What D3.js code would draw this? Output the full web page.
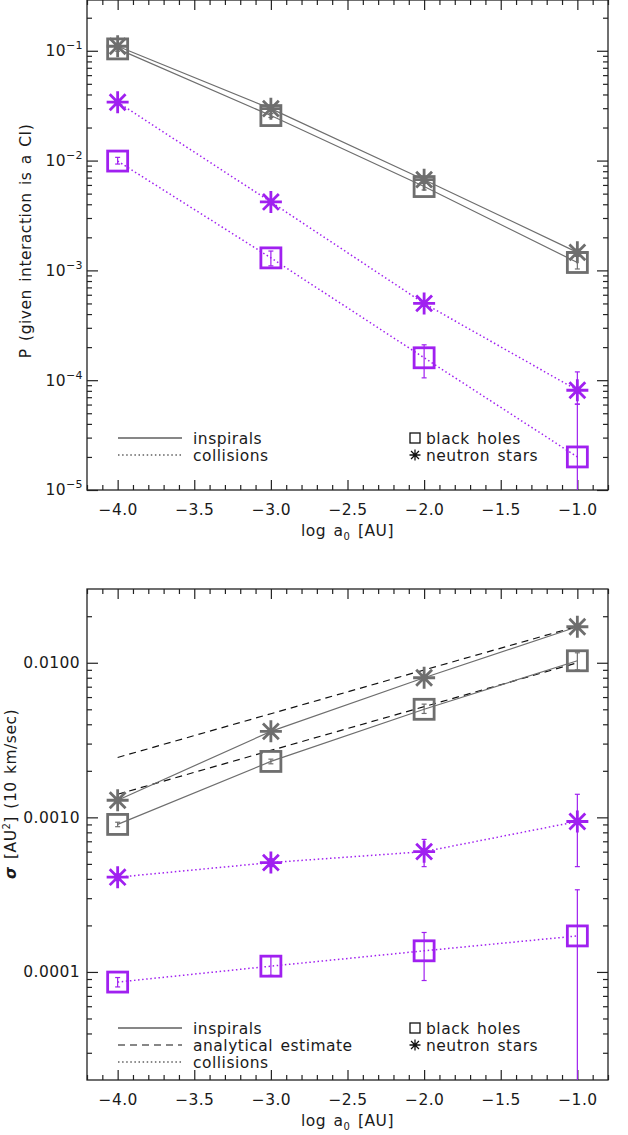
<!DOCTYPE html>
<html>
<head>
<meta charset="utf-8">
<script src="https://cdn.jsdelivr.net/npm/d3@7"></script>
<style>
  body { margin: 0; background: #fff; }
  text { font-family: 'DejaVu Sans', sans-serif; fill: #1a1a1a; }
  .axis path { display: none; }
  .axis line { stroke: #222; stroke-width: 1.2; }
  .axis text { font-size: 15.5px; letter-spacing: 0.4px; }
  .title { font-size: 15.5px; letter-spacing: 0.5px; word-spacing: 2px; }
  .legend text { font-size: 15.5px; letter-spacing: 0.5px; word-spacing: 2px; }
</style>
</head>
<body>
<div id="chart"></div>
<script>
// x positions, log a0 [AU]
const logA = [-4, -3, -2, -1];
const xTicks = [-4.0, -3.5, -3.0, -2.5, -2.0, -1.5, -1.0];

// top panel: P (given interaction is a CI)
const pInspBH = [0.104, 0.0257, 0.0058, 0.00118];
const pInspBHErr = [[0.099, 0.109], [0.0247, 0.0268], [0.0054, 0.0062], [0.00103, 0.00134]];
const pInspNS = [0.11, 0.0297, 0.0067, 0.00146];
const pInspNSErr = [[0.106, 0.114], [0.0287, 0.0308], [0.0064, 0.0071], [0.00137, 0.00156]];
const pCollNS = [0.034, 0.0042, 0.0005, 0.000081];
const pCollNSErr = [[0.0325, 0.0356], [0.0040, 0.0044], [0.00047, 0.00053], [0.0000605, 0.000119]];
const pCollBH = [0.0099, 0.0013, 0.00016, 0.00002];
const pCollBHErr = [[0.0093, 0.0107], [0.0011, 0.0015], [0.000105, 0.00021], [0.000001, 0.0000605]];
const pTicks = [1e-5, 1e-4, 1e-3, 1e-2, 1e-1];
const pTickExp = ['5', '4', '3', '2', '1'];

// bottom panel: cross section sigma [AU^2] at 10 km/sec
const sInspNS = [0.00129, 0.0036, 0.0080, 0.0171];
const sInspNSErr = [[0.00126, 0.00132], [0.00352, 0.00368], [0.0078, 0.0082], [0.0167, 0.0175]];
const sInspBH = [0.00090, 0.0023, 0.0050, 0.0103];
const sInspBHErr = [[0.00087, 0.00093], [0.00222, 0.00238], [0.0047, 0.0054], [0.0090, 0.0116]];
const sAnalNS = [0.00244, 0.00468, 0.00898, 0.0172];
const sAnalBH = [0.00141, 0.00271, 0.0052, 0.0100];
const sCollNS = [0.00041, 0.00051, 0.00060, 0.00094];
const sCollNSErr = [[0.00039, 0.00043], [0.00048, 0.00054], [0.00048, 0.00072], [0.00048, 0.00141]];
const sCollBH = [0.000086, 0.000109, 0.000137, 0.000171];
const sCollBHErr = [[0.000080, 0.000092], [0.000095, 0.000127], [0.000088, 0.00018], [0.000001, 0.00034]];
const sTicks = [0.0001, 0.001, 0.01];
const sTickLabels = ['0.0001', '0.0010', '0.0100'];

const GRAY = '#6e6e6e';
const PURPLE = '#a020f0';
const DOTS = '1.5,2.6';

const svg = d3.select('#chart').append('svg')
    .attr('width', 628)
    .attr('height', 1135);

// asterisk path, centred on 0,0
function starPath(r) {
    const d = r * 0.72;
    return `M${-r},0H${r}M0,${-r}V${r}M${-d},${-d}L${d},${d}M${-d},${d}L${d},${-d}`;
}

function drawMarker(g, kind, cx, cy, size, color, width) {
    if (kind === 'square') {
        g.append('rect')
            .attr('x', cx - size / 2).attr('y', cy - size / 2)
            .attr('width', size).attr('height', size)
            .attr('fill', 'none').attr('stroke', color).attr('stroke-width', width);
    } else {
        g.append('path')
            .attr('transform', `translate(${cx},${cy})`)
            .attr('d', starPath(size / 2))
            .attr('fill', 'none').attr('stroke', color).attr('stroke-width', width);
    }
}

function drawPanel(cfg) {
    const left = 87, right = 608;
    const x = d3.scaleLinear().domain([-4.2, -0.8]).range([left, right]);
    const y = d3.scaleLog().domain(cfg.yDomain).range([cfg.bottom, cfg.top]);

    const g = svg.append('g');
    g.append('clipPath').attr('id', cfg.id + '-clip')
        .append('rect')
        .attr('x', left).attr('y', cfg.top)
        .attr('width', right - left).attr('height', cfg.bottom - cfg.top);

    // minor ticks
    const xMinor = d3.range(-42, -7).map(v => v / 10)
        .filter(v => Math.abs(v * 2 - Math.round(v * 2)) > 1e-6);
    const yMinor = [];
    const lo = Math.floor(Math.log10(cfg.yDomain[0])), hi = Math.ceil(Math.log10(cfg.yDomain[1]));
    for (let e = lo; e <= hi; e++) {
        for (let k = 2; k <= 9; k++) {
            const v = k * Math.pow(10, e);
            if (v > cfg.yDomain[0] * 1.001 && v < cfg.yDomain[1]) yMinor.push(v);
        }
    }

    g.append('g').attr('class', 'axis')
        .attr('transform', `translate(0,${cfg.bottom})`)
        .call(d3.axisBottom(x).tickValues(xTicks).tickSize(-10).tickPadding(14).tickFormat(d3.format('.1f')));
    g.append('g').attr('class', 'axis')
        .attr('transform', `translate(0,${cfg.bottom})`)
        .call(d3.axisBottom(x).tickValues(xMinor).tickSize(-5).tickFormat(''));
    g.append('g').attr('class', 'axis')
        .attr('transform', `translate(0,${cfg.top})`)
        .call(d3.axisTop(x).tickValues(xTicks).tickSize(-10).tickFormat(''));
    g.append('g').attr('class', 'axis')
        .attr('transform', `translate(0,${cfg.top})`)
        .call(d3.axisTop(x).tickValues(xMinor).tickSize(-5).tickFormat(''));

    const yAxisG = g.append('g').attr('class', 'axis')
        .attr('transform', `translate(${left},0)`)
        .call(d3.axisLeft(y).tickValues(cfg.yTicks).tickSize(-11).tickPadding(cfg.yPad)
            .tickFormat((d, i) => cfg.yLabel ? cfg.yLabel[i] : ''));
    g.append('g').attr('class', 'axis')
        .attr('transform', `translate(${left},0)`)
        .call(d3.axisLeft(y).tickValues(yMinor).tickSize(-5).tickFormat(''));
    g.append('g').attr('class', 'axis')
        .attr('transform', `translate(${right},0)`)
        .call(d3.axisRight(y).tickValues(cfg.yTicks).tickSize(-11).tickFormat(''));
    g.append('g').attr('class', 'axis')
        .attr('transform', `translate(${right},0)`)
        .call(d3.axisRight(y).tickValues(yMinor).tickSize(-5).tickFormat(''));

    // powers of ten with superscript exponents
    if (cfg.yExp) {
        yAxisG.selectAll('.tick text').each(function (d, i) {
            const t = d3.select(this).text('');
            t.append('tspan').text('10');
            t.append('tspan').attr('dy', -7).attr('font-size', '11px').text('\u2212' + cfg.yExp[i]);
        });
    }

    g.append('rect')
        .attr('x', left).attr('y', cfg.top)
        .attr('width', right - left).attr('height', cfg.bottom - cfg.top)
        .attr('fill', 'none').attr('stroke', '#222').attr('stroke-width', 1.3);

    // series lines
    const line = d3.line().x(d => x(d[0])).y(d => y(d[1]));
    const plot = g.append('g').attr('clip-path', `url(#${cfg.id}-clip)`);
    cfg.series.forEach(s => {
        plot.append('path')
            .datum(logA.map((a, i) => [a, s.values[i]]))
            .attr('d', line)
            .attr('fill', 'none')
            .attr('stroke', s.color)
            .attr('stroke-width', s.width || 1.2)
            .attr('stroke-dasharray', s.dash || null);
    });

    // error bars
    cfg.series.filter(s => s.err).forEach(s => {
        s.err.forEach((e, i) => {
            const cx = x(logA[i]);
            plot.append('line')
                .attr('x1', cx).attr('x2', cx)
                .attr('y1', y(e[0])).attr('y2', y(e[1]))
                .attr('stroke', s.color).attr('stroke-width', 1.2);
            e.forEach(v => {
                plot.append('line')
                    .attr('x1', cx - 2.5).attr('x2', cx + 2.5)
                    .attr('y1', y(v)).attr('y2', y(v))
                    .attr('stroke', s.color).attr('stroke-width', 1.2);
            });
        });
    });

    // markers
    cfg.series.filter(s => s.marker).forEach(s => {
        s.values.forEach((v, i) => {
            drawMarker(g, s.marker, x(logA[i]), y(v), s.marker === 'square' ? 20 : 22, s.color, 2.8);
        });
    });

    // axis titles
    const xt = g.append('text').attr('class', 'title')
        .attr('x', (left + right) / 2).attr('y', cfg.bottom + 46)
        .attr('text-anchor', 'middle');
    xt.append('tspan').text('log a');
    xt.append('tspan').attr('dy', 4).attr('font-size', '10px').text('0');
    xt.append('tspan').attr('dy', -4).text(' [AU]');

    const yt = g.append('text').attr('class', 'title')
        .attr('transform', `translate(${cfg.yTitleX},${cfg.yTitleY}) rotate(-90)`)
        .attr('text-anchor', 'middle');
    cfg.yTitle(yt);

    // legend
    const leg = g.append('g').attr('class', 'legend');
    cfg.legendLines.forEach((l, i) => {
        const ly = cfg.legendY + i * 17;
        leg.append('line')
            .attr('x1', 118).attr('x2', 182).attr('y1', ly).attr('y2', ly)
            .attr('stroke', '#111').attr('stroke-width', 1.2)
            .attr('stroke-dasharray', l.dash || null);
        leg.append('text').attr('x', 193).attr('y', ly + 5.5).text(l.label);
    });
    cfg.legendMarkers.forEach((m, i) => {
        const ly = cfg.legendY + i * 17;
        drawMarker(leg, m.marker, 415, ly, m.marker === 'square' ? 10 : 11, '#111', 1.3);
        leg.append('text').attr('x', 426).attr('y', ly + 5.5).text(m.label);
    });
}

const legendMarkers = [
    {label: 'black holes', marker: 'square'},
    {label: 'neutron stars', marker: 'star'}
];

drawPanel({
    id: 'top', top: 0, bottom: 490,
    yDomain: [1e-5, 0.29],
    yTicks: pTicks, yExp: pTickExp, yPad: 4,
    yTitleX: 31, yTitleY: 241,
    yTitle: t => t.text('P (given interaction is a CI)'),
    series: [
        {values: pInspBH, err: pInspBHErr, color: GRAY, marker: 'square'},
        {values: pInspNS, err: pInspNSErr, color: GRAY, marker: 'star'},
        {values: pCollNS, err: pCollNSErr, color: PURPLE, marker: 'star', dash: DOTS, width: 1.5},
        {values: pCollBH, err: pCollBHErr, color: PURPLE, marker: 'square', dash: DOTS, width: 1.5}
    ],
    legendY: 438,
    legendLines: [
        {label: 'inspirals'},
        {label: 'collisions', dash: DOTS}
    ],
    legendMarkers: legendMarkers
});

drawPanel({
    id: 'bottom', top: 589, bottom: 1080,
    yDomain: [2e-5, 0.03],
    yTicks: sTicks, yLabel: sTickLabels, yPad: 7,
    yTitleX: 16, yTitleY: 794,
    yTitle: t => {
        t.append('tspan').attr('font-weight', 'bold').attr('font-style', 'italic').text('\u03c3');
        t.append('tspan').text(' [AU');
        t.append('tspan').attr('dy', -6).attr('font-size', '10px').text('2');
        t.append('tspan').attr('dy', 6).text('] (10 km/sec)');
    },
    series: [
        {values: sAnalNS, color: '#111', dash: '7,5'},
        {values: sAnalBH, color: '#111', dash: '7,5'},
        {values: sInspNS, err: sInspNSErr, color: GRAY, marker: 'star'},
        {values: sInspBH, err: sInspBHErr, color: GRAY, marker: 'square'},
        {values: sCollNS, err: sCollNSErr, color: PURPLE, marker: 'star', dash: DOTS, width: 1.5},
        {values: sCollBH, err: sCollBHErr, color: PURPLE, marker: 'square', dash: DOTS, width: 1.5}
    ],
    legendY: 1028,
    legendLines: [
        {label: 'inspirals'},
        {label: 'analytical estimate', dash: '7,5'},
        {label: 'collisions', dash: DOTS}
    ],
    legendMarkers: legendMarkers
});
</script>
</body>
</html>
